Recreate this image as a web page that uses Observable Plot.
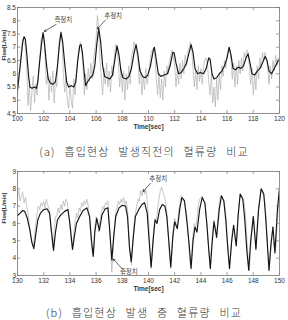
<!DOCTYPE html>
<html><head><meta charset="utf-8">
<script src="https://cdn.jsdelivr.net/npm/d3@7"></script>
<script src="https://cdn.jsdelivr.net/npm/@observablehq/plot@0.6"></script>
<style>
body{margin:0;background:#fff;width:288px;height:320px;position:relative;overflow:hidden;font-family:"Liberation Sans",Arial,sans-serif}
.panel{position:absolute;left:0}
.cap{position:absolute;left:0;width:288px;text-align:center;font-family:"Noto Sans CJK KR",sans-serif;font-size:11px;line-height:16px;color:#333;word-spacing:5px;letter-spacing:1.2px;font-weight:300}
</style></head><body>
<div id="a" class="panel" style="top:0"></div>
<div class="cap" style="top:143px">(a) 흡입현상 발생직전의 혈류량 비교</div>
<div id="b" class="panel" style="top:164px"></div>
<div class="cap" style="top:304px">(b) 흡입현상 발생 중 혈류량 비교</div>
<script>
// ---------- Panel (a): just before suction ----------
const xTicksA = [100,102,104,106,108,110,112,114,116,118,120];
const yTicksA = [4.5,5,5.5,6,6.5,7,7.5,8,8.5];
// measured (black) vertices
const measTA = [100.0,100.1,100.25,100.4,100.5,100.6,100.7,100.85,100.95,101.1,101.3,101.45,101.55,101.7,101.85,101.95,102.05,102.2,102.35,102.5,102.7,102.9,103.05,103.2,103.32,103.45,103.6,103.75,103.9,104.1,104.3,104.45,104.6,104.75,104.85,104.95,105.1,105.2,105.35,105.55,105.75,105.9,106.05,106.2,106.35,106.5,106.65,106.85,107.05,107.25,107.45,107.6,107.75,107.9,108.05,108.3,108.5,108.7,108.9,109.05,109.2,109.35,109.55,109.75,109.95,110.15,110.35,110.45,110.6,110.75,110.95,111.2,111.45,111.65,111.85,111.95,112.1,112.3,112.5,112.7,112.9,113.1,113.25,113.4,113.55,113.75,113.95,114.2,114.4,114.6,114.7,114.85,115.0,115.2,115.4,115.6,115.8,116.0,116.15,116.3,116.45,116.65,116.85,117.05,117.25,117.45,117.6,117.75,117.9,118.1,118.3,118.5,118.7,118.9,119.05,119.2,119.4,119.6,119.8,120.0];
const measVA = [5.4,5.8,6.5,7.2,7.4,7.3,6.8,5.9,5.5,5.45,5.5,5.45,5.7,6.5,7.2,7.55,7.2,6.4,5.8,5.65,5.6,5.7,6.3,7.1,7.55,7.2,6.4,5.7,5.5,5.55,5.5,5.7,6.5,7.05,7.1,6.8,6.0,5.55,5.7,5.85,5.95,6.3,7.1,7.7,7.2,6.3,5.9,5.85,5.8,5.95,6.6,7.05,6.7,6.1,5.85,5.8,5.9,6.2,6.8,7.1,6.7,6.1,5.9,5.85,5.95,6.3,6.85,7.0,6.5,6.0,5.9,5.95,6.0,6.3,6.8,6.8,6.4,6.0,6.05,6.2,6.4,6.8,7.1,6.8,6.2,6.0,6.05,6.0,6.2,6.6,6.55,6.0,5.8,5.85,6.0,6.1,6.3,6.6,7.0,6.7,6.2,6.15,6.25,6.2,6.3,6.6,6.75,6.4,6.0,5.95,6.1,6.2,6.4,6.65,6.5,6.1,6.0,6.2,6.4,6.55];
// estimated (gray) samples every 0.1 s from 100.0 to 120.0
const estVA = [
5.1,6.0,6.3,7.0,7.3,7.2,7.0,6.4,4.8,5.6,
4.6,5.3,5.9,4.9,5.6,5.2,6.0,6.6,7.3,7.4,
7.5,6.7,5.6,6.0,5.0,5.9,5.3,6.1,4.9,5.8,
5.5,6.6,7.3,7.6,7.2,6.0,5.3,5.9,5.0,4.7,
5.6,5.0,4.7,5.8,5.2,6.1,6.6,7.0,7.2,6.9,
6.4,5.2,6.0,5.4,6.2,5.7,6.4,5.8,6.5,6.9,
7.3,8.2,7.6,6.5,5.8,5.2,6.2,5.6,6.4,5.5,
6.1,5.3,6.3,5.9,6.7,7.1,7.0,6.4,5.5,6.2,
5.3,6.1,5.0,6.0,5.4,6.3,5.6,6.6,6.9,7.2,
7.0,6.8,6.4,5.6,6.2,5.2,5.9,5.4,6.2,5.6,
6.0,6.4,6.8,6.9,7.0,6.6,5.8,5.2,6.0,5.1,
5.8,5.0,6.1,5.5,6.3,6.0,6.5,6.7,6.9,6.6,
6.3,5.5,6.2,5.6,6.4,5.8,6.5,6.0,6.7,6.3,
6.8,7.0,7.2,6.9,6.2,5.5,6.1,5.4,6.3,5.7,
6.2,5.6,6.3,6.5,6.6,6.4,5.7,5.2,6.0,4.9,
5.5,4.75,5.8,5.0,6.0,5.4,6.3,5.9,6.5,6.2,
6.7,6.9,7.0,6.5,5.8,6.4,5.5,6.3,5.6,6.5,
6.0,6.6,6.1,6.8,6.6,6.9,6.8,6.3,5.6,6.2,
5.2,6.0,5.4,6.3,5.8,6.6,6.2,6.8,6.5,6.8,
6.6,6.2,5.6,6.3,5.8,6.5,6.1,6.7,6.3,6.6,
6.5];
// annotations (a)
const annLabelA = ["측정치","추정치"];
const annTextXA = [103.5,107.3];
const annTextYA = [8.02,8.17];
const annX1A = [102.95,106.7];
const annY1A = [7.86,8.02];
const annX2A = [102.05,106.1];
const annY2A = [7.6,7.7];

// ---------- Panel (b): during suction ----------
const xTicksB = [130,132,134,136,138,140,142,144,146,148,150];
const yTicksB = [3,4,5,6,7,8,9];
const measTB = [130.0,130.2,130.4,130.55,130.75,130.95,131.1,131.25,131.4,131.55,131.75,132.0,132.25,132.45,132.6,132.75,132.9,133.05,133.3,133.6,133.85,134.0,134.2,134.35,134.5,134.75,135.0,135.3,135.5,135.65,135.78,135.9,136.05,136.25,136.45,136.7,136.9,137.05,137.2,137.35,137.5,137.75,138.0,138.25,138.4,138.55,138.68,138.85,139.0,139.25,139.5,139.7,139.9,140.05,140.2,140.35,140.5,140.65,140.85,141.05,141.25,141.4,141.55,141.7,141.85,142.0,142.2,142.4,142.55,142.75,142.95,143.1,143.25,143.4,143.55,143.7,143.9,144.1,144.3,144.45,144.6,144.72,144.85,145.0,145.2,145.4,145.57,145.75,145.9,146.05,146.18,146.35,146.5,146.7,146.85,147.0,147.2,147.35,147.5,147.65,147.8,148.0,148.2,148.4,148.6,148.8,148.95,149.1,149.2,149.35,149.5,149.65,149.85,150.0];
const measVB = [6.45,6.6,6.75,6.7,6.3,5.6,4.9,4.55,5.4,6.2,6.6,6.8,6.85,6.6,5.5,4.45,5.5,6.2,6.5,6.7,6.8,6.0,4.5,5.3,6.0,6.4,6.75,6.9,6.4,5.0,4.1,5.5,6.3,5.6,6.5,6.85,6.9,5.5,3.9,5.3,6.4,6.9,7.05,7.0,6.4,4.6,3.8,5.3,6.4,6.8,7.1,7.2,6.6,5.0,3.5,5.0,6.2,6.0,6.8,7.1,7.0,6.4,5.0,3.5,5.2,6.1,5.7,6.9,7.5,7.3,6.0,4.8,3.4,5.0,5.8,5.5,6.8,7.5,7.2,6.0,4.5,3.4,4.8,6.1,5.2,6.8,7.6,7.3,6.2,4.6,3.4,5.0,5.9,4.7,6.5,7.7,7.4,6.2,4.5,3.3,5.0,6.4,4.5,6.8,8.0,7.7,6.3,4.5,3.3,4.8,5.8,4.3,6.9,8.0];
const estVB = [
7.4,7.9,7.3,7.6,7.8,7.2,7.5,7.0,6.6,6.0,
5.3,4.9,4.7,5.3,6.0,6.6,7.0,6.8,7.2,7.0,
7.3,6.9,7.4,7.1,6.8,6.2,5.3,4.6,5.6,6.4,
6.4,6.9,6.6,7.1,6.8,7.3,7.0,7.4,7.2,6.6,
5.8,5.0,4.6,5.5,6.1,6.6,6.3,6.9,6.7,7.2,
7.0,7.3,7.1,7.4,7.0,6.4,5.3,4.3,4.2,5.7,
6.4,6.1,5.5,6.2,6.6,7.0,6.8,7.2,7.1,7.3,
6.2,4.8,3.2,4.6,5.8,6.7,6.9,7.3,7.1,7.4,
7.2,7.5,7.1,7.3,6.8,5.2,4.2,3.6,4.9,6.0,
6.6,7.0,7.4,7.3,7.9,7.6,8.0,7.7,7.9,7.4,
6.3,4.6,3.4,4.4,5.8,6.3,6.1,6.9,7.4,7.9,
8.1,7.8,7.6,7.3,6.6,5.4,4.2,3.4,4.5,5.8,
6.3,6.0,5.8,6.7,7.2,7.6,7.5,7.3,7.0,6.6,
5.6,4.5,3.5,4.3,5.4,6.0,5.7,6.3,7.0,7.4,
7.5,7.6,7.3,7.2,6.6,5.6,4.4,3.5,4.6,5.6,
6.2,5.8,5.3,6.4,7.1,7.6,7.5,7.4,7.2,6.6,
5.3,4.2,3.4,4.4,5.5,5.9,5.1,4.8,6.2,7.1,
7.7,7.6,7.5,7.2,6.6,5.2,4.0,3.3,4.5,5.6,
6.4,5.6,4.6,5.9,6.8,7.5,8.0,7.9,7.6,7.2,
5.9,4.5,3.3,4.2,5.3,5.8,4.6,4.4,5.7,6.8,
7.9];
const annLabelB = ["추정치","측정치"];
const annTextXB = [140.75,138.5];
const annTextYB = [8.55,3.18];
const annX1B = [140.15,137.95];
const annY1B = [8.32,3.42];
const annX2B = [139.6,137.3];
const annY2B = [7.85,3.95];

function drawPanel(cfg) {
  const [x0, x1] = cfg.xDomain, [y0, y1] = cfg.yDomain;
  const tE = cfg.estV.map((_, i) => x0 + i / 10);
  const est = cfg.estV.map((v, i) => ({t: tE[i], v}));
  const meas = cfg.measT.map((t, i) => ({t, v: cfg.measV[i]}));
  const ann = cfg.labels.map((s, i) => ({s, tx: cfg.tx[i], ty: cfg.ty[i], x1: cfg.ax1[i], y1: cfg.ay1[i], x2: cfg.ax2[i], y2: cfg.ay2[i]}));
  const tx = (x1 - x0) * 0.012, ty = (y1 - y0) * 0.028;
  return Plot.plot({
    width: 288, height: cfg.height,
    marginTop: 7, marginLeft: 17, marginRight: 9, marginBottom: cfg.marginBottom,
    x: {domain: cfg.xDomain},
    y: {domain: cfg.yDomain},
    style: {fontSize: "6.5px", fontFamily: "'Liberation Sans', Arial, sans-serif", color: "#333", background: "#fff"},
    marks: [
      Plot.line(est, {x: "t", y: "v", stroke: "#b0b0b0", strokeWidth: 0.7, clip: true}),
      Plot.line(meas, {x: "t", y: "v", stroke: "#151515", strokeWidth: 1.15, clip: true}),
      Plot.frame({stroke: "#777", strokeWidth: 0.8}),
      Plot.ruleY(cfg.yTicks, {y: d => d, x1: x0, x2: x0 + tx, stroke: "#777", strokeWidth: 0.7}),
      Plot.ruleY(cfg.yTicks, {y: d => d, x1: x1 - tx, x2: x1, stroke: "#777", strokeWidth: 0.7}),
      Plot.ruleX(cfg.xTicks, {x: d => d, y1: y0, y2: y0 + ty, stroke: "#777", strokeWidth: 0.7}),
      Plot.ruleX(cfg.xTicks, {x: d => d, y1: y1 - ty, y2: y1, stroke: "#777", strokeWidth: 0.7}),
      Plot.axisX({ticks: cfg.xTicks, tickSize: 0, tickPadding: 3, tickFormat: d => String(d), label: null, fill: "#333"}),
      Plot.axisY({ticks: cfg.yTicks, tickSize: 0, tickPadding: 1.5, tickFormat: d => String(d), label: null, fill: "#333"}),
      Plot.text(["Time[sec]"], {frameAnchor: "bottom", dy: 15, fontWeight: "bold", fontSize: 6.5, fill: "#333"}),
      Plot.text(["Flow[L/min]"], {frameAnchor: "left", dx: -13.5, rotate: -90, fontWeight: "bold", fontSize: 5.5, fill: "#333"}),
      Plot.arrow(ann, {x1: "x1", y1: "y1", x2: "x2", y2: "y2", stroke: "#222", strokeWidth: 0.7, headLength: 4}),
      Plot.text(ann, {x: "tx", y: "ty", text: "s", fontSize: 6.5, fill: "#444", fontFamily: "'Noto Sans CJK KR', sans-serif"})
    ]
  });
}

document.getElementById("a").append(drawPanel({
  xDomain: [100, 120], yDomain: [4.5, 8.5], xTicks: xTicksA, yTicks: yTicksA,
  measT: measTA, measV: measVA, estV: estVA, height: 135, marginBottom: 22,
  labels: annLabelA, tx: annTextXA, ty: annTextYA, ax1: annX1A, ay1: annY1A, ax2: annX2A, ay2: annY2A
}));
document.getElementById("b").append(drawPanel({
  xDomain: [130, 150], yDomain: [3, 9], xTicks: xTicksB, yTicks: yTicksB,
  measT: measTB, measV: measVB, estV: estVB, height: 135, marginBottom: 24,
  labels: annLabelB, tx: annTextXB, ty: annTextYB, ax1: annX1B, ay1: annY1B, ax2: annX2B, ay2: annY2B
}));
</script>
</body></html>
